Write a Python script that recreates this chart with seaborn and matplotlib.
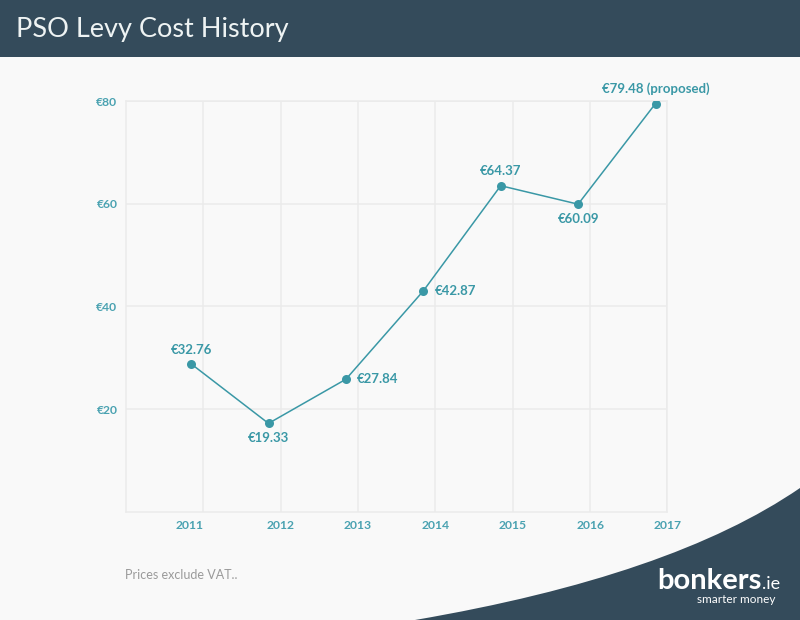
import numpy as np
import pandas as pd
import matplotlib
matplotlib.use('Agg')
import matplotlib.pyplot as plt
from matplotlib.patches import Rectangle, PathPatch
from matplotlib.path import Path
import seaborn as sns

# data
years = ['2011', '2012', '2013', '2014', '2015', '2016', '2017']
levy = [28.8, 17.2, 25.8, 43.0, 63.5, 59.9, 79.5]
levy_labels = ['€32.76', '€19.33', '€27.84', '€42.87', '€64.37', '€60.09', '€79.48 (proposed)']
y_ticks = [20, 40, 60, 80]
y_tick_labels = ['€20', '€40', '€60', '€80']

# where each value label sits relative to its point
label_side = ['above', 'below', 'right', 'right', 'above', 'below', 'above']

bg = '#f9f9f9'
dark = '#344b5b'
teal = '#3a98a6'
tick_teal = '#4aa2b1'
grid_col = '#ebebeb'

sns.set_style('white')
plt.rcParams['font.family'] = ['Lato', 'DejaVu Sans']

W, H = 800, 620
fig = plt.figure(figsize=(8, 6.2), dpi=100, facecolor=bg)

# header bar
fig.patches.append(Rectangle((0, 1 - 57 / H), 1, 57 / H, transform=fig.transFigure,
                             facecolor=dark, edgecolor='none', zorder=0))
fig.text(16 / W, 1 - 29 / H, 'PSO Levy Cost History', color='#eef3f3',
         fontsize=19.5, va='center', ha='left')

# bottom right swoosh
def fp(x, y):
    return (x / W, 1 - y / H)

verts = [fp(415, 620), fp(672, 576), fp(800, 488), fp(800, 620), fp(415, 620)]
codes = [Path.MOVETO, Path.CURVE3, Path.CURVE3, Path.LINETO, Path.CLOSEPOLY]
fig.patches.append(PathPatch(Path(verts, codes), transform=fig.transFigure,
                             facecolor=dark, edgecolor='none', zorder=0))
logo = fig.text(657 / W, 1 - 589 / H, 'bonkers', color='white', fontsize=21,
                fontweight='bold', va='baseline', ha='left')
fig.canvas.draw()
bb = logo.get_window_extent()
fig.text(bb.x1 / W + 1 / W, 1 - 589 / H, '.ie', color='white', fontsize=13,
         va='baseline', ha='left')
fig.text(697 / W, 1 - 603 / H, 'smarter money', color='white', fontsize=8.5,
         va='baseline', ha='left')

# plot area
ax = fig.add_axes([125.7 / W, 1 - 511.7 / H, 541.8 / W, 410.7 / H])
ax.set_facecolor(bg)

df = pd.DataFrame({'pos': np.arange(1, len(years) + 1) - 0.155, 'levy': levy})
sns.lineplot(data=df, x='pos', y='levy', ax=ax, color=teal, linewidth=1.1,
             marker='o', markersize=6.5, markeredgewidth=0, zorder=3)

ax.set_xlim(0, 7)
ax.set_ylim(0, 80)
ax.set_xticks(range(1, len(years) + 1))
ax.set_xticklabels(years)
ax.set_yticks(y_ticks)
ax.set_yticklabels(y_tick_labels)
ax.set_xlabel('')
ax.set_ylabel('')
ax.grid(True, color=grid_col, linewidth=1.1)
ax.set_axisbelow(True)
for s in ax.spines.values():
    s.set_color(grid_col)
    s.set_linewidth(1.1)
ax.tick_params(length=0, labelsize=8.7, labelcolor=tick_teal)
ax.tick_params(axis='x', pad=6)
ax.tick_params(axis='y', pad=6)
for t in ax.get_xticklabels() + ax.get_yticklabels():
    t.set_fontweight('bold')
ax.get_xticklabels()[0].set_ha('right')

offsets = {'above': ((0, 6), 'center', 'bottom'),
           'below': ((0, -6), 'center', 'top'),
           'right': ((8, 0), 'left', 'center')}
for x, y, lab, side in zip(df['pos'], levy, levy_labels, label_side):
    off, ha, va = offsets[side]
    ax.annotate(lab, (x, y), xytext=off, textcoords='offset points',
                ha=ha, va=va, color=teal, fontsize=9.5, fontweight='bold')

fig.text(125 / W, 1 - 575 / H, 'Prices exclude VAT..', color='#9a9a9a',
         fontsize=9, va='center', ha='left')

fig.savefig('out.png', dpi=100, facecolor=bg)
